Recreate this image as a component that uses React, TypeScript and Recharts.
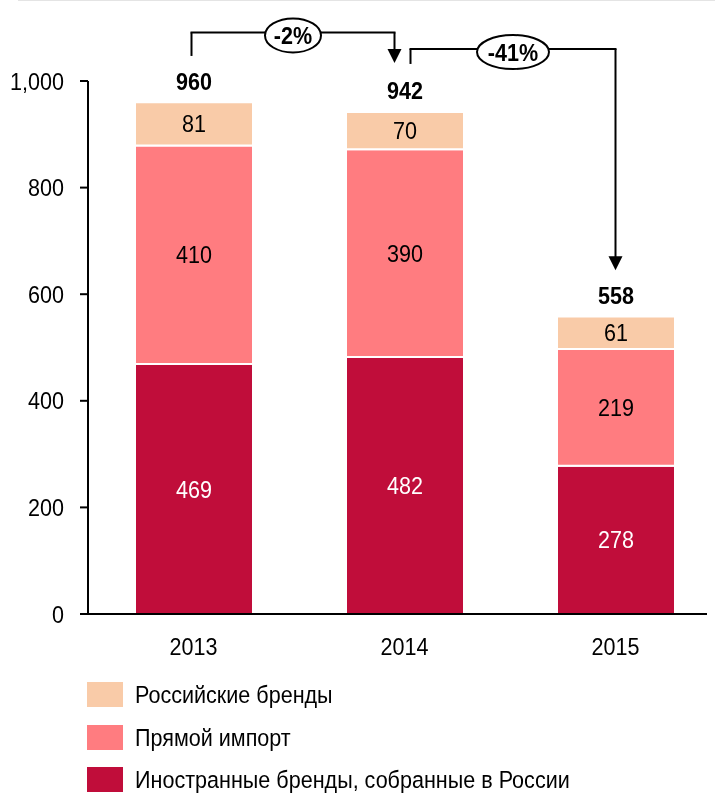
import React from 'react';
import { BarChart, Bar, XAxis, YAxis, LabelList, ReferenceLine } from 'recharts';

const years = ['2013', '2014', '2015'];
const foreignAssembled = [469, 482, 278];
const directImport = [410, 390, 219];
const russianBrands = [81, 70, 61];
const yTicks = [0, 200, 400, 600, 800, 1000];

const seriesNames = {
  russian: 'Российские бренды',
  import: 'Прямой импорт',
  foreign: 'Иностранные бренды, собранные в России',
};

const COLORS = {
  russian: '#F9CBA8',
  import: '#FF7C80',
  foreign: '#C00D3A',
};

// no narrow font installed, so Liberation Sans is squeezed to look like Arial Narrow
const FONT = "'Liberation Sans', Arial, sans-serif";
const SQUEEZE = 0.88;
const FS = 24.5;

const data = years.map((year, i) => ({
  year,
  foreign: foreignAssembled[i],
  import: directImport[i],
  russian: russianBrands[i],
  total: foreignAssembled[i] + directImport[i] + russianBrands[i],
}));

// bracket arrows between the totals (y in data units, dx in px off the bar centre)
const changes = [
  { from: 0, to: 1, startV: 1047, levelV: 1091, tipV: 1034, dxFrom: -2, dxTo: -10 },
  { from: 1, to: 2, startV: 1032, levelV: 1060, tipV: 645, dxFrom: 6, dxTo: 0 },
];

const pctLabel = (a: number, b: number) => `${Math.round(((b - a) / a) * 100)}%`;

const NarrowText = ({ x, y, anchor = 'middle', dy = '0.35em', bold = false, fill = '#000', children }: any) => (
  <text
    transform={`translate(${x},${y}) scale(${SQUEEZE},1)`}
    x={0}
    y={0}
    dy={dy}
    textAnchor={anchor}
    fontFamily={FONT}
    fontSize={FS}
    fontWeight={bold ? 'bold' : 'normal'}
    fill={fill}
  >
    {children}
  </text>
);

const XTick = (props: any) => (
  <NarrowText x={props.x} y={props.y} dy="0.71em">
    {props.payload.value}
  </NarrowText>
);

const YTick = (props: any) => (
  <NarrowText x={props.x} y={props.y} anchor="end">
    {Number(props.payload.value).toLocaleString('en-US')}
  </NarrowText>
);

const segmentLabel = (fill: string) => (props: any) => {
  const { x, y, width, height, value } = props;
  return (
    <NarrowText x={x + width / 2} y={y + height / 2} fill={fill}>
      {value}
    </NarrowText>
  );
};

const TotalLabel = (props: any) => {
  const { x, y, width, index } = props;
  return (
    <NarrowText x={x + width / 2} y={y - 21} bold>
      {data[index].total}
    </NarrowText>
  );
};

const vShape = (dx: number) => (p: any) => (
  <line x1={p.x1 + dx} y1={p.y1} x2={p.x2 + dx} y2={p.y2} stroke="#000" strokeWidth={2} />
);

const hShape = (dxFrom: number, dxTo: number, label: string) => (p: any) => {
  const xa = p.x1 + dxFrom;
  const xb = p.x2 + dxTo;
  const cx = (xa + xb) / 2;
  const rx = 4 + 8 * label.length;
  return (
    <g>
      <line x1={xa - 1} y1={p.y1} x2={xb + 1} y2={p.y2} stroke="#000" strokeWidth={2} />
      <ellipse cx={cx} cy={p.y1 + 3} rx={rx} ry={17} fill="#fff" stroke="#000" strokeWidth={2} />
      <NarrowText x={cx} y={p.y1 + 3} bold>
        {label}
      </NarrowText>
    </g>
  );
};

const arrowShape = (dx: number) => (p: any) => {
  const x = p.x1 + dx;
  const tip = p.y2;
  return (
    <g>
      <line x1={x} y1={p.y1} x2={x} y2={tip - 12} stroke="#000" strokeWidth={2} />
      <path d={`M${x - 7},${tip - 14} L${x + 7},${tip - 14} L${x},${tip} Z`} fill="#000" />
    </g>
  );
};

const legendItems = [
  { key: 'russian', name: seriesNames.russian, color: COLORS.russian },
  { key: 'import', name: seriesNames.import, color: COLORS.import },
  { key: 'foreign', name: seriesNames.foreign, color: COLORS.foreign },
];

export default function App() {
  return (
    <>
      <div style={{ position: 'fixed', top: 0, left: 18, right: 0, height: 1, background: '#e4e4e4' }} />
      <div style={{ position: 'relative', width: 707, height: 788, overflow: 'hidden', fontFamily: FONT }}>
        <BarChart
          width={713}
          height={666}
          data={data}
          margin={{ top: 73, right: 0, bottom: 0, left: 0 }}
        >
          <XAxis
            dataKey="year"
            axisLine={{ stroke: '#000', strokeWidth: 2 }}
            tickLine={false}
            tickSize={0}
            tickMargin={24}
            height={60}
            tick={XTick}
          />
          <YAxis
            width={80}
            domain={[0, 1000]}
            ticks={yTicks}
            interval={0}
            axisLine={{ stroke: '#000', strokeWidth: 2 }}
            tickLine={{ stroke: '#000', strokeWidth: 2 }}
            tickSize={8}
            tickMargin={16}
            tick={YTick}
          />
          <Bar dataKey="foreign" stackId="a" fill={COLORS.foreign} stroke="#fff" strokeWidth={2} barSize={118} isAnimationActive={false}>
            <LabelList dataKey="foreign" content={segmentLabel('#fff')} />
          </Bar>
          <Bar dataKey="import" stackId="a" fill={COLORS.import} stroke="#fff" strokeWidth={2} barSize={118} isAnimationActive={false}>
            <LabelList dataKey="import" content={segmentLabel('#000')} />
          </Bar>
          <Bar dataKey="russian" stackId="a" fill={COLORS.russian} stroke="#fff" strokeWidth={2} barSize={118} isAnimationActive={false}>
            <LabelList dataKey="russian" content={segmentLabel('#000')} />
            <LabelList dataKey="total" content={TotalLabel} />
          </Bar>
          {changes.map((c, i) => {
            const from = years[c.from];
            const to = years[c.to];
            const label = pctLabel(data[c.from].total, data[c.to].total);
            return [
              <ReferenceLine
                key={`v1-${i}`}
                ifOverflow="visible"
                segment={[{ x: from, y: c.startV }, { x: from, y: c.levelV }]}
                shape={vShape(c.dxFrom)}
              />,
              <ReferenceLine
                key={`v2-${i}`}
                ifOverflow="visible"
                segment={[{ x: to, y: c.levelV }, { x: to, y: c.tipV }]}
                shape={arrowShape(c.dxTo)}
              />,
              <ReferenceLine
                key={`h-${i}`}
                ifOverflow="visible"
                segment={[{ x: from, y: c.levelV }, { x: to, y: c.levelV }]}
                shape={hShape(c.dxFrom, c.dxTo, label)}
              />,
            ];
          })}
        </BarChart>
        <div style={{ position: 'absolute', left: 79, top: 674 }}>
          {legendItems.map((item) => (
            <div key={item.key} style={{ display: 'flex', alignItems: 'center', height: 25, marginBottom: 17.5 }}>
              <div style={{ width: 36, height: 25, backgroundColor: item.color, flexShrink: 0 }} />
              <span
                style={{
                  marginLeft: 12,
                  fontSize: FS,
                  color: '#000',
                  lineHeight: '25px',
                  whiteSpace: 'nowrap',
                  display: 'inline-block',
                  transform: `scaleX(${SQUEEZE})`,
                  transformOrigin: 'left center',
                }}
              >
                {item.name}
              </span>
            </div>
          ))}
        </div>
      </div>
    </>
  );
}
